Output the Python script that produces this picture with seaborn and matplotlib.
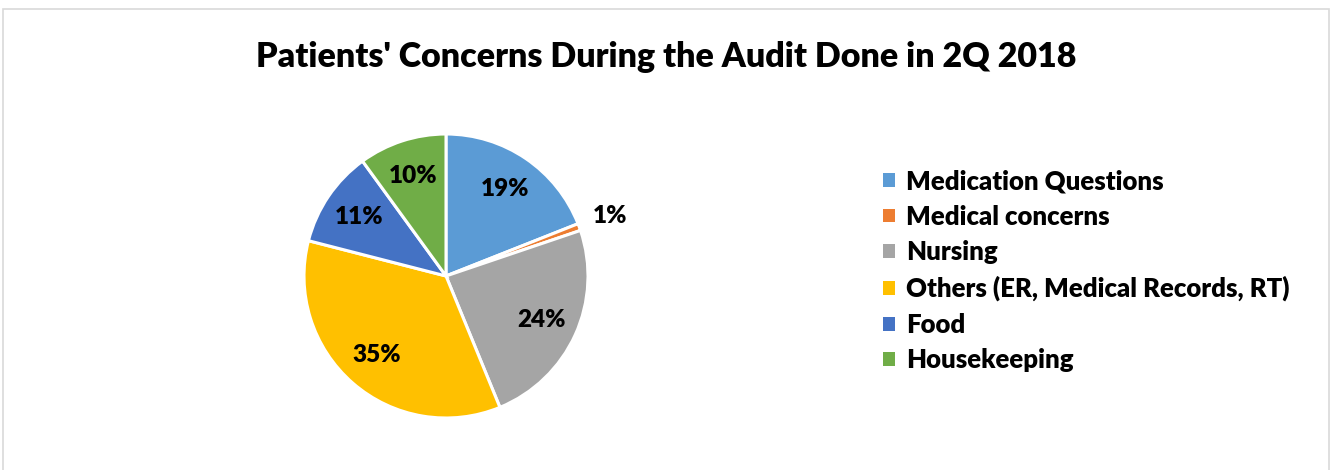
import seaborn as sns
import matplotlib.pyplot as plt
import numpy as np
from matplotlib.patches import Patch, Rectangle

sns.set_theme(style='white')
plt.rcParams['font.family'] = ['Lato', 'DejaVu Sans']
plt.rcParams['text.color'] = 'black'

categories = ['Medication Questions', 'Medical concerns', 'Nursing',
              'Others (ER, Medical Records, RT)', 'Food', 'Housekeeping']
shares = [19, 0.8, 24, 35.2, 11, 10]
labels = ['19%', '1%', '24%', '35%', '11%', '10%']
colors = sns.color_palette(['#5B9BD5', '#ED7D31', '#A5A5A5', '#FFC000', '#4472C4', '#70AD47'])

W, H = 1333, 470
fig = plt.figure(figsize=(W / 100, H / 100), dpi=100)
fig.patch.set_facecolor('white')

# light grey frame like the Excel chart area
fig.patches.append(Rectangle((3 / W, -0.1), 1326 / W, 1.1 - 9 / H, transform=fig.transFigure,
                             fill=False, edgecolor='#D9D9D9', linewidth=1.2))

cx, cy, r = 446, 276, 142
ax = fig.add_axes([(cx - r) / W, (H - cy - r) / H, 2 * r / W, 2 * r / H])
wedges, _ = ax.pie(shares, colors=colors, startangle=90, counterclock=False,
                   wedgeprops=dict(edgecolor='white', linewidth=2.2))
ax.set_xlim(-1, 1)
ax.set_ylim(-1, 1)
ax.set_aspect('equal')

for w, lab in zip(wedges, labels):
    mid = np.deg2rad((w.theta1 + w.theta2) / 2)
    dist = 1.23 if lab == '1%' else 0.74
    ax.text(dist * np.cos(mid), dist * np.sin(mid), lab, ha='center', va='center',
            fontsize=17.5, fontweight='heavy', color='black')

fig.text(0.5, 1 - 57 / H, "Patients' Concerns During the Audit Done in 2Q 2018",
         ha='center', va='center', fontsize=24.5, fontweight='heavy', color='black')

handles = [Patch(facecolor=c, edgecolor='none') for c in colors]
fig.legend(handles, categories, loc='upper left', bbox_to_anchor=(860 / W, 1 - 146 / H),
           frameon=False, handlelength=0.45, handleheight=0.45, labelcolor='black',
           handletextpad=0.45, labelspacing=0.45, prop={'weight': 'heavy', 'size': 18.5})

fig.savefig('out.png', dpi=100)
